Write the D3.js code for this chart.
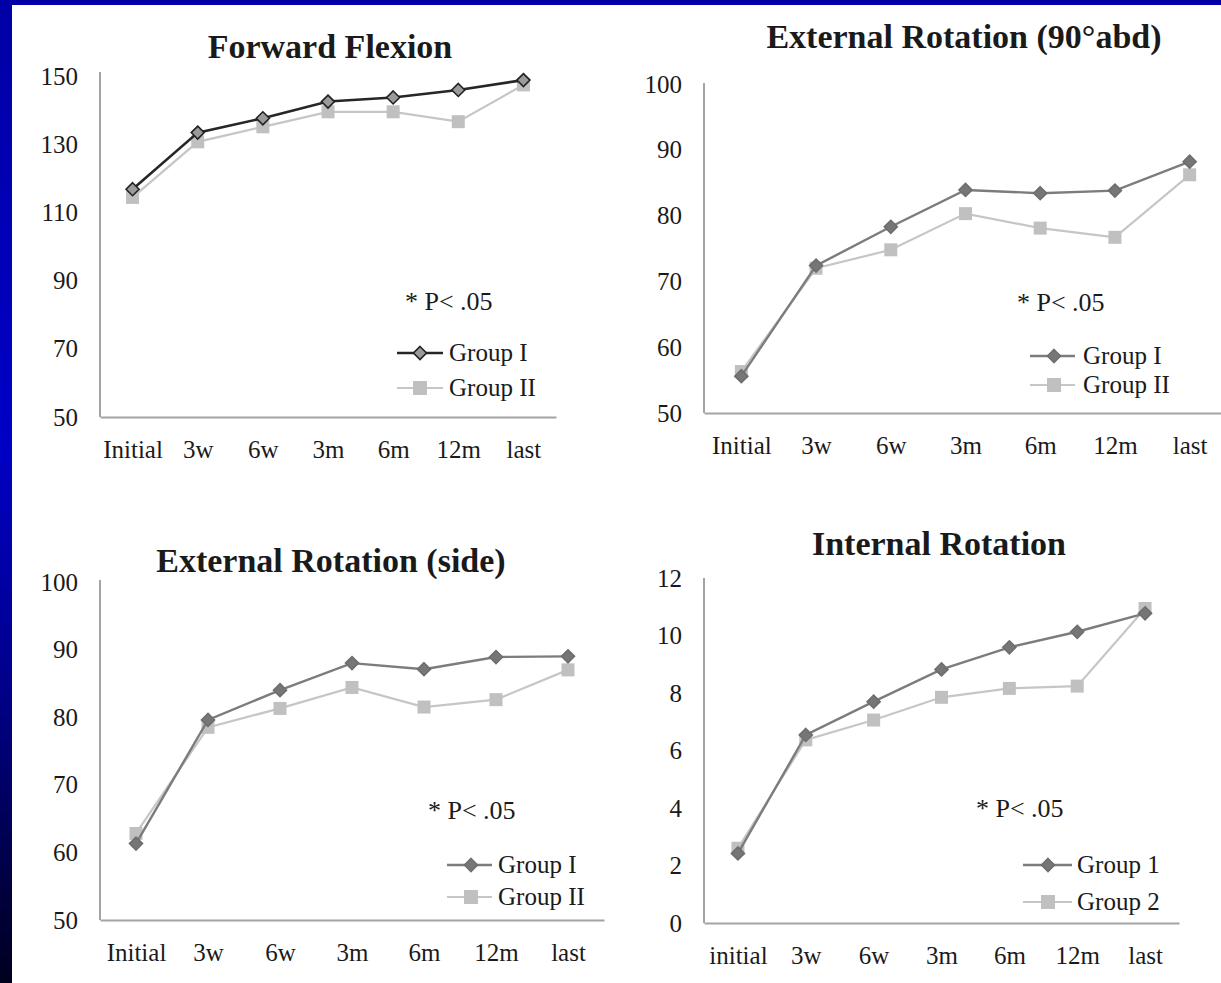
<!DOCTYPE html>
<html>
<head>
<meta charset="utf-8">
<script src="https://cdn.jsdelivr.net/npm/d3@7"></script>
<style>
  html, body { margin: 0; padding: 0; background: #fff; }
  svg { display: block; }
  text { font-family: "Liberation Serif", "Times New Roman", serif; fill: #1a1a1a; }
</style>
</head>
<body>
<svg id="chart" width="1221" height="983"></svg>
<script>
// Follow-up time points
const periods = ["Initial", "3w", "6w", "3m", "6m", "12m", "last"];
const periodsLower = ["initial", "3w", "6w", "3m", "6m", "12m", "last"];

// Forward flexion (degrees)
const flexionGroup1 = [116.8, 133.4, 137.6, 142.5, 143.7, 145.9, 148.8];
const flexionGroup2 = [114.4, 130.7, 135.1, 139.5, 139.5, 136.6, 147.4];

// External rotation at 90° abduction (degrees)
const er90Group1 = [55.6, 72.4, 78.3, 83.9, 83.4, 83.8, 88.2];
const er90Group2 = [56.3, 72.0, 74.8, 80.3, 78.1, 76.7, 86.2];

// External rotation at side (degrees)
const erSideGroup1 = [61.3, 79.6, 84.0, 88.0, 87.1, 88.9, 89.0];
const erSideGroup2 = [62.8, 78.5, 81.3, 84.4, 81.5, 82.6, 87.0];

// Internal rotation (vertebral level score)
const irGroup1 = [2.42, 6.54, 7.70, 8.82, 9.59, 10.13, 10.77];
const irGroup2 = [2.60, 6.37, 7.06, 7.85, 8.16, 8.24, 10.94];

// Axis tick values
const ticksDegFlex = [50, 70, 90, 110, 130, 150];
const ticksDegRot = [50, 60, 70, 80, 90, 100];
const ticksIR = [0, 2, 4, 6, 8, 10, 12];

// Legend names
const legendRoman = ["Group I", "Group II"];
const legendArabic = ["Group 1", "Group 2"];
const noteText = "* P< .05";

const svg = d3.select("#chart");

// Slide backdrop: blue gradient frame with a white content area
const defs = svg.append("defs");
const grad = defs.append("linearGradient").attr("id", "frame")
  .attr("x1", 0).attr("y1", 0).attr("x2", 0).attr("y2", 1);
[[0, "#0000a6"], [0.45, "#0000c6"], [0.7, "#00008a"], [1, "#00001e"]]
  .forEach(([o, c]) => grad.append("stop").attr("offset", o).attr("stop-color", c));
svg.append("rect").attr("width", 1221).attr("height", 983).attr("fill", "url(#frame)");
svg.append("rect").attr("x", 12).attr("y", 5).attr("width", 1209).attr("height", 978).attr("fill", "#ffffff");

const panels = [
  {
    title: "Forward Flexion", titleX: 330, titleY: 58,
    xLabels: periods, xRange: [100, 556], yDomain: [50, 150], yRange: [417, 76], axisTop: 72,
    ticks: ticksDegFlex, s1: flexionGroup1, s2: flexionGroup2, names: legendRoman,
    c1: "#262626", m1Fill: "#9a9a9a", m1Stroke: "#222", w1: 2.6,
    note: [405, 310], legend: { x1: 397, x2: 443, mx: 420, tx: 449, y1: 353, y2: 388 }
  },
  {
    title: "External Rotation (90°abd)", titleX: 964, titleY: 48,
    xLabels: periods, xRange: [704, 1227], yDomain: [50, 100], yRange: [413, 84], axisTop: 83,
    ticks: ticksDegRot, s1: er90Group1, s2: er90Group2, names: legendRoman,
    c1: "#7c7c7c", m1Fill: "#767676", m1Stroke: "#6e6e6e", w1: 2.4,
    note: [1017, 311], legend: { x1: 1030, x2: 1075, mx: 1054, tx: 1083, y1: 356, y2: 385 }
  },
  {
    title: "External Rotation (side)", titleX: 331, titleY: 572,
    xLabels: periods, xRange: [100, 604], yDomain: [50, 100], yRange: [920, 582], axisTop: 580,
    ticks: ticksDegRot, s1: erSideGroup1, s2: erSideGroup2, names: legendRoman,
    c1: "#7c7c7c", m1Fill: "#767676", m1Stroke: "#6e6e6e", w1: 2.4,
    note: [428, 819], legend: { x1: 447, x2: 492, mx: 471, tx: 498, y1: 865, y2: 897 }
  },
  {
    title: "Internal Rotation", titleX: 939, titleY: 555,
    xLabels: periodsLower, xRange: [704, 1179], yDomain: [0, 12], yRange: [923, 578], axisTop: 578,
    ticks: ticksIR, s1: irGroup1, s2: irGroup2, names: legendArabic,
    c1: "#7c7c7c", m1Fill: "#767676", m1Stroke: "#6e6e6e", w1: 2.4,
    note: [976, 817], legend: { x1: 1023, x2: 1072, mx: 1048, tx: 1077, y1: 865, y2: 902 }
  }
];

const c2 = "#c6c6c6", m2Fill = "#c0c0c0";
const diamond = (s) => `M0,${-s}L${s},0L0,${s}L${-s},0Z`;

panels.forEach(p => {
  const g = svg.append("g");
  const x = d3.scalePoint().domain(p.xLabels).range(p.xRange).padding(0.5);
  const y = d3.scaleLinear().domain(p.yDomain).range(p.yRange);

  // Y axis: labels only, with a plain vertical rule
  const ya = g.append("g").attr("transform", `translate(${p.xRange[0]},0)`)
    .call(d3.axisLeft(y).tickValues(p.ticks).tickSize(0).tickPadding(22).tickFormat(d3.format("d")));
  ya.select(".domain").remove();
  ya.selectAll("text").style("font-family", "Liberation Serif").style("font-size", "25px").attr("fill", "#1a1a1a");
  g.append("line").attr("x1", p.xRange[0]).attr("x2", p.xRange[0])
    .attr("y1", p.axisTop).attr("y2", p.yRange[0])
    .attr("stroke", "#a4a4a4").attr("stroke-width", 2);

  // X axis along the baseline
  const xa = g.append("g").attr("transform", `translate(0,${p.yRange[0]})`)
    .call(d3.axisBottom(x).tickSize(0).tickPadding(23));
  xa.select(".domain").attr("stroke", "#a4a4a4").attr("stroke-width", 2);
  xa.selectAll("text").style("font-family", "Liberation Serif").style("font-size", "25px").attr("fill", "#1a1a1a");

  // Title
  g.append("text").attr("x", p.titleX).attr("y", p.titleY).attr("text-anchor", "middle")
    .style("font-size", "34px").style("font-weight", "bold").text(p.title);

  const line = d3.line().x((d, i) => x(p.xLabels[i])).y(d => y(d));

  // Group 2: light grey line with squares
  g.append("path").datum(p.s2).attr("d", line).attr("fill", "none")
    .attr("stroke", c2).attr("stroke-width", 2.2);
  g.selectAll(".sq").data(p.s2).join("rect").attr("class", "sq")
    .attr("x", (d, i) => x(p.xLabels[i]) - 6.5).attr("y", d => y(d) - 6.5)
    .attr("width", 13).attr("height", 13).attr("fill", m2Fill);

  // Group 1: darker line with diamonds
  g.append("path").datum(p.s1).attr("d", line).attr("fill", "none")
    .attr("stroke", p.c1).attr("stroke-width", p.w1);
  g.selectAll(".dm").data(p.s1).join("path").attr("class", "dm")
    .attr("transform", (d, i) => `translate(${x(p.xLabels[i])},${y(d)})`)
    .attr("d", diamond(6.5)).attr("fill", p.m1Fill).attr("stroke", p.m1Stroke).attr("stroke-width", 1.6);

  // Significance note
  g.append("text").attr("x", p.note[0]).attr("y", p.note[1]).style("font-size", "26px").text(noteText);

  // Legend
  const L = p.legend;
  g.append("line").attr("x1", L.x1).attr("x2", L.x2).attr("y1", L.y1).attr("y2", L.y1)
    .attr("stroke", p.c1).attr("stroke-width", p.w1);
  g.append("path").attr("transform", `translate(${L.mx},${L.y1})`).attr("d", diamond(6.5))
    .attr("fill", p.m1Fill).attr("stroke", p.m1Stroke).attr("stroke-width", 1.6);
  g.append("line").attr("x1", L.x1).attr("x2", L.x2).attr("y1", L.y2).attr("y2", L.y2)
    .attr("stroke", c2).attr("stroke-width", 2);
  g.append("rect").attr("x", L.mx - 7).attr("y", L.y2 - 7).attr("width", 14).attr("height", 14).attr("fill", m2Fill);
  g.append("text").attr("x", L.tx).attr("y", L.y1).attr("dy", "0.33em").style("font-size", "25px").text(p.names[0]);
  g.append("text").attr("x", L.tx).attr("y", L.y2).attr("dy", "0.33em").style("font-size", "25px").text(p.names[1]);
});
</script>
</body>
</html>
